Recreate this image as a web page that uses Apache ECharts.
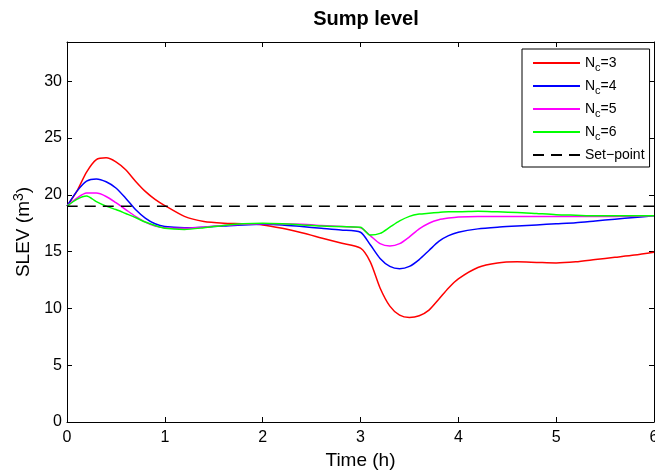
<!DOCTYPE html>
<html>
<head>
<meta charset="utf-8">
<script src="https://cdn.jsdelivr.net/npm/echarts@6/dist/echarts.min.js"></script>
<style>
html,body{margin:0;padding:0;background:#fff;}
#chart{width:655px;height:470px;}
</style>
</head>
<body>
<div id="chart"></div>
<script>
var times = [0,0.1,0.2,0.3,0.4,0.5,0.6,0.7,0.8,0.9,1.0,1.2,1.4,1.6,1.8,2.0,2.2,2.4,2.6,2.8,3.0,3.1,3.2,3.3,3.4,3.5,3.6,3.7,3.8,3.9,4.0,4.2,4.4,4.6,4.8,5.0,5.2,5.4,5.6,5.8,6.0];
var nc3 = [19.0,20.3,22.0,23.1,23.25,22.9,22.2,21.2,20.3,19.6,19.05,18.1,17.65,17.5,17.45,17.35,17.05,16.65,16.2,15.75,15.3,14.1,11.8,10.2,9.4,9.2,9.35,9.85,10.8,11.8,12.6,13.6,14.0,14.1,14.05,14.0,14.1,14.3,14.5,14.7,14.95];
var nc4 = [19.0,20.3,21.2,21.4,21.15,20.6,19.7,18.7,17.95,17.45,17.2,17.1,17.15,17.25,17.35,17.4,17.35,17.2,17.05,16.9,16.7,15.6,14.4,13.7,13.5,13.7,14.3,15.1,15.9,16.4,16.7,17.0,17.15,17.25,17.35,17.45,17.55,17.7,17.85,18.0,18.15];
var nc5 = [19.0,19.7,20.15,20.15,19.85,19.3,18.7,18.1,17.6,17.25,17.1,17.05,17.15,17.3,17.4,17.45,17.45,17.4,17.3,17.2,17.1,16.4,15.7,15.5,15.7,16.3,17.0,17.5,17.8,17.95,18.05,18.1,18.1,18.1,18.1,18.1,18.1,18.1,18.1,18.12,18.15];
var nc6 = [19.0,19.6,19.9,19.4,19.0,18.7,18.35,18.0,17.6,17.3,17.05,16.95,17.1,17.3,17.45,17.5,17.45,17.35,17.25,17.2,17.15,16.45,16.6,17.15,17.7,18.1,18.3,18.38,18.45,18.5,18.5,18.55,18.5,18.45,18.35,18.25,18.2,18.15,18.15,18.15,18.15];
var setpointTimes = [0,6];
var setpointValues = [19,19];
var xTicks = [0,1,2,3,4,5,6];
var yTicks = [0,5,10,15,20,25,30];
var seriesNames = ['N_c=3','N_c=4','N_c=5','N_c=6','Set\u2212point'];

function pairs(xs, ys){ return xs.map(function(x,i){ return [x, ys[i]]; }); }

var font = 'Liberation Sans, Arial, Helvetica, sans-serif';
var chart = echarts.init(document.getElementById('chart'), null, {renderer:'canvas'});

function lineSeries(name, data, color, dashed){
  return {
    name: name, type: 'line', data: data, showSymbol: false, symbol: 'none',
    smooth: 0.25, animation: false,
    lineStyle: {color: color, width: 1.5, type: dashed ? [11,7] : 'solid'},
    itemStyle: {color: color}
  };
}

var option = {
  backgroundColor: '#fff',
  animation: false,
  title: {
    text: 'Sump level', left: 361, top: 4, textAlign: 'center',
    textStyle: {fontFamily: font, fontSize: 20, fontWeight: 'bold', color: '#000'}
  },
  grid: {left: 67, right: 1, top: 42, bottom: 48, containLabel: false, outerBoundsMode: 'none'},
  legend: {
    orient: 'vertical', left: 522, top: 49,
    backgroundColor: '#fff', borderColor: '#000', borderWidth: 1, borderRadius: 0,
    padding: [7, 5, 5, 10], itemGap: 5.5, itemWidth: 47, itemHeight: 14,
    itemStyle: {opacity: 0},
    data: seriesNames,
    formatter: function(name){
      if (name.indexOf('N_c') === 0) {
        return '{n|N}{s|c}{n|' + name.slice(3) + '}';
      }
      return '{n|' + name + '}';
    },
    textStyle: {
      fontFamily: font, fontSize: 14, color: '#000',
      rich: {
        n: {fontFamily: font, fontSize: 14, color: '#000'},
        s: {fontFamily: font, fontSize: 11, color: '#000', padding: [10,0,0,0]}
      }
    }
  },
  xAxis: [{
    type: 'value', min: 0, max: 6, interval: 1, position: 'bottom',
    name: 'Time (h)', nameLocation: 'middle', nameGap: 28,
    nameTextStyle: {fontFamily: font, fontSize: 19, color: '#000'},
    axisLine: {show: true, onZero: false, lineStyle: {color: '#000', width: 1}},
    axisTick: {show: true, inside: true, length: 5, lineStyle: {color: '#000'}},
    axisLabel: {fontFamily: font, fontSize: 16, color: '#000', margin: 8,
      formatter: function(v){ return xTicks.indexOf(v) >= 0 ? String(v) : ''; }},
    splitLine: {show: false}
  }, {
    type: 'value', min: 0, max: 6, interval: 1, position: 'top',
    axisLine: {show: true, onZero: false, lineStyle: {color: '#000', width: 1}},
    axisTick: {show: true, inside: true, length: 5, lineStyle: {color: '#000'}},
    axisLabel: {show: false}, splitLine: {show: false}
  }],
  yAxis: [{
    type: 'value', min: 0, max: 33.45, interval: 5, position: 'left',
    name: '{a|SLEV (m}{b|3}{a|)}', nameLocation: 'middle', nameGap: 28, nameRotate: 90,
    nameTextStyle: {fontFamily: font, fontSize: 19, color: '#000',
      rich: {
        a: {fontFamily: font, fontSize: 19, color: '#000'},
        b: {fontFamily: font, fontSize: 14, color: '#000', padding: [0,0,10,0]}
      }},
    axisLine: {show: true, onZero: false, lineStyle: {color: '#000', width: 1}},
    axisTick: {show: true, inside: true, length: 5, lineStyle: {color: '#000'}},
    axisLabel: {fontFamily: font, fontSize: 16, color: '#000', margin: 5, showMaxLabel: false,
      formatter: function(v){ return yTicks.indexOf(v) >= 0 ? String(v) : ''; }},
    splitLine: {show: false}
  }, {
    type: 'value', min: 0, max: 33.45, interval: 5, position: 'right',
    axisLine: {show: true, onZero: false, lineStyle: {color: '#000', width: 1}},
    axisTick: {show: true, inside: true, length: 5, lineStyle: {color: '#000'}},
    axisLabel: {show: false}, splitLine: {show: false}
  }],
  series: [
    lineSeries(seriesNames[0], pairs(times, nc3), '#ff0000', false),
    lineSeries(seriesNames[1], pairs(times, nc4), '#0000ff', false),
    lineSeries(seriesNames[2], pairs(times, nc5), '#ff00ff', false),
    lineSeries(seriesNames[3], pairs(times, nc6), '#00ff00', false),
    lineSeries(seriesNames[4], pairs(setpointTimes, setpointValues), '#000000', true)
  ]
};
chart.setOption(option);
</script>
</body>
</html>
